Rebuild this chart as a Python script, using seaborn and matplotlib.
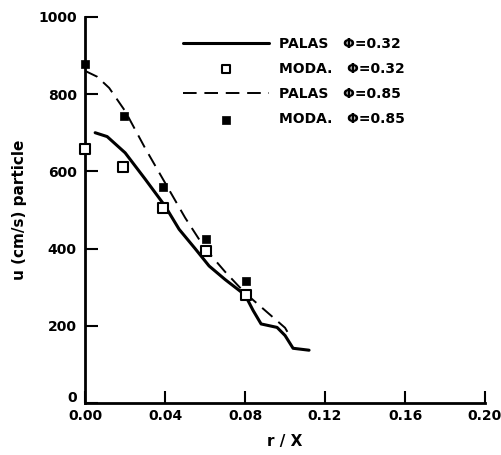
import matplotlib
matplotlib.use("Agg")
import matplotlib.pyplot as plt
import matplotlib.transforms as mtransforms
import seaborn as sns
import pandas as pd

# PALAS model curves
palas32_r = [0.005, 0.011, 0.020, 0.030, 0.040, 0.047, 0.055, 0.062, 0.070, 0.080, 0.084, 0.088, 0.096, 0.100, 0.104, 0.112]
palas32_u = [700, 690, 648, 580, 510, 450, 400, 355, 320, 280, 240, 205, 196, 175, 142, 137]

palas85_r = [0.000, 0.006, 0.012, 0.020, 0.030, 0.040, 0.050, 0.060, 0.070, 0.080, 0.090, 0.100, 0.103]
palas85_u = [860, 845, 816, 756, 660, 570, 480, 400, 340, 285, 240, 195, 168]

# MODA measurements
moda32_r = [0.000, 0.019, 0.039, 0.0605, 0.0805]
moda32_u = [657, 612, 506, 395, 281]

moda85_r = [0.000, 0.0195, 0.039, 0.0605, 0.0805]
moda85_u = [877, 743, 560, 426, 315]

sns.set_style("ticks")
plt.rcParams['font.family'] = ['DejaVu Sans']
plt.rcParams.update({'text.color': 'black', 'axes.labelcolor': 'black',
                     'xtick.color': 'black', 'ytick.color': 'black',
                     'axes.edgecolor': 'black'})

fig = plt.figure(figsize=(5.01, 4.55), dpi=100)
ax = fig.add_axes([0.170, 0.114, 0.798, 0.849])

df32 = pd.DataFrame({'r': palas32_r, 'u': palas32_u})
df85 = pd.DataFrame({'r': palas85_r, 'u': palas85_u})

sns.lineplot(x='r', y='u', data=df32, ax=ax, color='black', linewidth=2.2,
             label='PALAS   \u03a6=0.32', sort=False)
sns.scatterplot(x=moda32_r, y=moda32_u, ax=ax, marker='s', s=45,
                facecolor='white', edgecolor='black', linewidth=1.5,
                label='MODA.   \u03a6=0.32', zorder=3, clip_on=False)
sns.lineplot(x='r', y='u', data=df85, ax=ax, color='black', linewidth=1.4,
             linestyle=(0, (7, 4)), label='PALAS   \u03a6=0.85', sort=False)
sns.scatterplot(x=moda85_r, y=moda85_u, ax=ax, marker='s', s=40,
                color='black', edgecolor='black', label='MODA.   \u03a6=0.85',
                zorder=3, clip_on=False)

ax.set_xlim(0, 0.20)
ax.set_ylim(0, 1000)
ax.set_xticks([0.00, 0.04, 0.08, 0.12, 0.16, 0.20])
ax.set_xticklabels(['0.00', '0.04', '0.08', '0.12', '0.16', '0.20'], fontweight='bold')
ax.set_yticks([0, 200, 400, 600, 800, 1000])
ax.set_yticklabels(['0', '200', '400', '600', '800', '1000'], fontweight='bold')
ax.tick_params(direction='in', length=9, width=1.5, labelsize=10)
ax.tick_params(axis='y', pad=6)
ax.tick_params(axis='x', pad=4)
for side in ['left', 'bottom']:
    ax.spines[side].set_linewidth(2)
sns.despine(ax=ax)

# lift the "0" label a little so it clears "0.00"
zero_lbl = ax.get_yticklabels()[0]
zero_lbl.set_transform(zero_lbl.get_transform() +
                       mtransforms.ScaledTranslation(0, 5 / 72, fig.dpi_scale_trans))

ax.set_xlabel('r / X', fontsize=11, fontweight='bold', labelpad=8)
ax.set_ylabel('u (cm/s) particle', fontsize=11, fontweight='bold', labelpad=8)

leg = ax.legend(loc='upper left', bbox_to_anchor=(183 / 501, 1 - 37 / 455),
                bbox_transform=fig.transFigure, frameon=False,
                borderpad=0, borderaxespad=0, markerscale=0.8,
                handlelength=6.2, prop={'weight': 'bold', 'size': 10},
                labelspacing=0.8, handletextpad=0.7)

fig.savefig('out.png', dpi=100)
